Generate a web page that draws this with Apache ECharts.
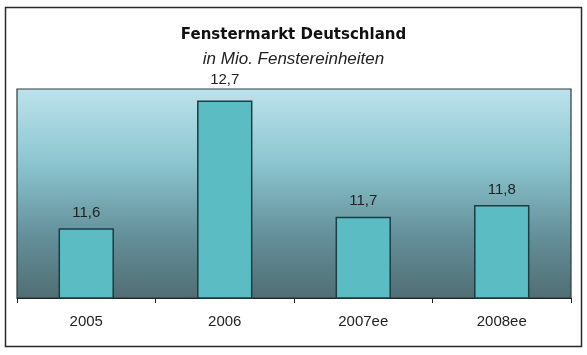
<!DOCTYPE html>
<html><head><meta charset="utf-8">
<script src="https://cdn.jsdelivr.net/npm/echarts@6/dist/echarts.min.js"></script>
<style>html,body{margin:0;padding:0;background:#fff}#c{width:587px;height:355px}</style>
</head><body><div id="c"></div>
<script>
const categories = ['2005', '2006', '2007ee', '2008ee'];
const values = [11.6, 12.7, 11.7, 11.8];
const titleText = 'Fenstermarkt Deutschland';
const subtitleText = 'in Mio. Fenstereinheiten';

const chart = echarts.init(document.getElementById('c'), null, {renderer: 'canvas'});
chart.setOption({
  animation: false,
  backgroundColor: '#fff',
  title: [{
    text: titleText,
    left: 'center',
    top: 23,
    textStyle: {fontFamily: 'DejaVu Sans', fontWeight: 'bold', fontSize: 15, color: '#111'}
  }, {
    text: subtitleText,
    left: 'center',
    top: 46,
    textStyle: {fontFamily: 'Liberation Sans', fontStyle: 'italic', fontWeight: 'normal', fontSize: 17, color: '#222'}
  }],
  graphic: [{
    type: 'rect', shape: {x: 5.5, y: 7.5, width: 576, height: 339},
    style: {fill: 'none', stroke: '#2a2a2a', lineWidth: 1.5}, z: 100
  }],
  grid: {
    left: 17, right: 16, top: 89, bottom: 57,
    show: true,
    borderColor: '#2f3a3c', borderWidth: 1.2,
    backgroundColor: new echarts.graphic.LinearGradient(0, 0, 0, 1, [
      {offset: 0, color: '#bde3ec'},
      {offset: 0.35, color: '#8cc6d0'},
      {offset: 0.7, color: '#64909a'},
      {offset: 1, color: '#516d73'}
    ])
  },
  xAxis: {
    type: 'category', data: categories,
    axisLine: {lineStyle: {color: '#222', width: 1.2}},
    axisTick: {show: true, length: 5, lineStyle: {color: '#222'}},
    axisLabel: {fontFamily: 'Liberation Sans', fontSize: 15, color: '#222', margin: 16}
  },
  yAxis: {
    type: 'value', min: 11, max: 12.8, show: false,
    splitLine: {show: false}
  },
  series: [{
    type: 'bar',
    data: values.map((v, i) => i === 1 ? {value: v, label: {distance: 13}} : v),
    barWidth: '40%',
    itemStyle: {color: '#5bbcc3', borderColor: '#1b3d44', borderWidth: 1.5},
    label: {
      show: true, position: 'top', distance: 8,
      fontFamily: 'Liberation Sans', fontSize: 15, color: '#222',
      formatter: p => String(p.value).replace('.', ',')
    }
  }]
});
</script></body></html>
